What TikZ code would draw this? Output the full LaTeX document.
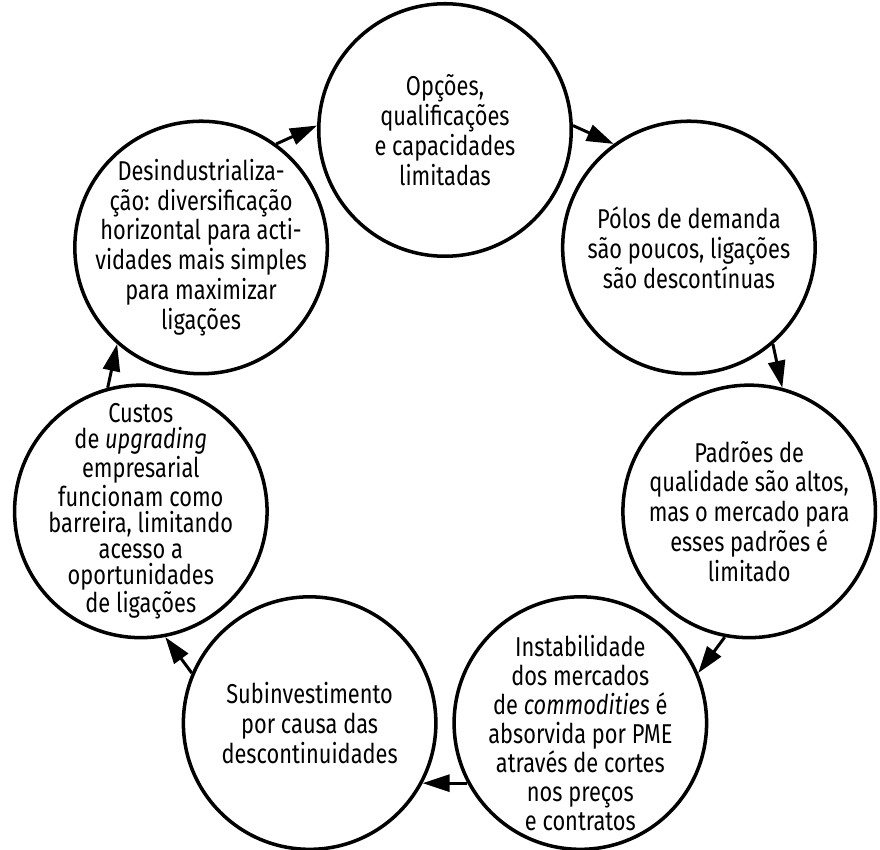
\documentclass[tikz,border=0pt]{standalone}
\usepackage{fontspec}
\setmainfont{Fira Sans}[FakeStretch=0.8]
\usetikzlibrary{arrows.meta}
\tikzset{
	bubble/.style={draw, circle, line width=2pt, minimum size=5.05cm, inner sep=0pt},
	txt/.style={align=center, inner sep=0pt, font=\fontsize{15.5pt}{17pt}\selectfont},
	flow/.style={line width=1.7pt, -{Triangle[length=5.4mm,width=3.4mm]}},
}

\begin{document}
\begin{tikzpicture}
	\useasboundingbox (-8.9,-8.16) rectangle (8.7,8.84);

	% seven stages, clockwise from the top
	\node[bubble, label={[txt]center:{Opções,\\ qualificações\\ e capacidades\\ limitadas}}] (opcoes) at (90:6.24) {};
	\node[bubble, label={[txt]center:{Pólos de demanda\\ são poucos, ligações\\ são descontínuas}}] (polos) at (38.571:6.24) {};
	\node[bubble, label={[txt]center:{Padrões de\\ qualidade são altos,\\ mas o mercado para\\ esses padrões é\\ limitado}}] (padroes) at (-12.857:6.24) {};
	\node[bubble, label={[txt, yshift=-0.2cm, font=\fontsize{15.5pt}{16.5pt}\selectfont]center:{Instabilidade\\ dos mercados\\ de \textit{commodities} é\\ absorvida por PME\\ através de cortes\\ nos preços\\ e contratos}}] (instab) at (-64.286:6.24) {};
	\node[bubble, label={[txt]center:{Subinvestimento\\ por causa das\\ descontinuidades}}] (subinv) at (-115.714:6.24) {};
	\node[bubble, label={[txt, font=\fontsize{15.5pt}{14.8pt}\selectfont]center:{Custos\\ de \textit{upgrading}\\ empresarial\\ funcionam como\\ barreira, limitando\\ acesso a\\ oportunidades\\ de ligações}}] (custos) at (-167.143:6.24) {};
	\node[bubble, label={[txt]center:{Desindustrializa-\\ ção: diversificação\\ horizontal para acti-\\ vidades mais simples\\ para maximizar\\ ligações}}] (desind) at (141.429:6.24) {};

	% arrows sit a bit outside the line between centres
	\draw[flow] (opcoes.2) -- (polos.126);
	\draw[flow] (polos.311) -- (padroes.75);
	\draw[flow] (padroes.259) -- (instab.23);
	\draw[flow] (instab.208) -- (subinv.332);
	\draw[flow] (subinv.157) -- (custos.281);
	\draw[flow] (custos.105) -- (desind.229);
	\draw[flow] (desind.54) -- (opcoes.178);
\end{tikzpicture}
\end{document}
